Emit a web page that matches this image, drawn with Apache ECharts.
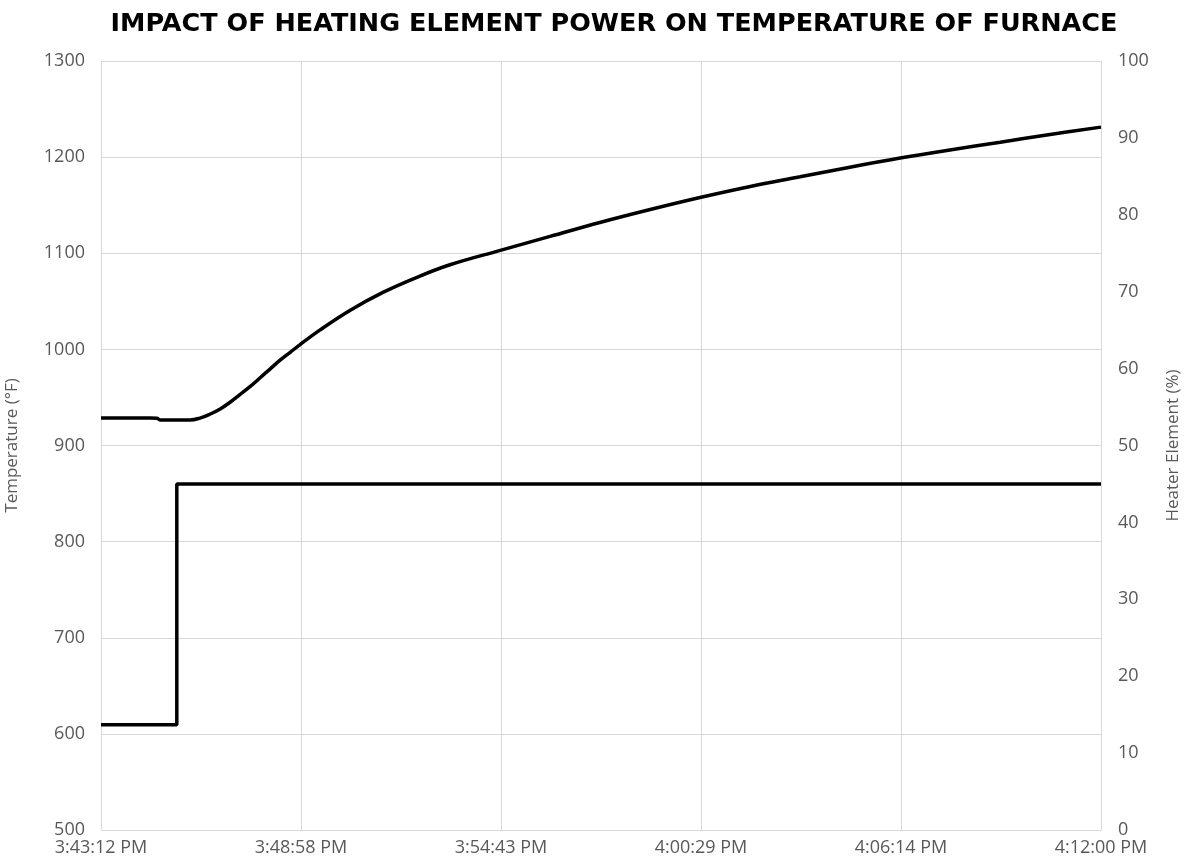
<!DOCTYPE html>
<html><head><meta charset="utf-8">
<script src="https://cdn.jsdelivr.net/npm/echarts@6/dist/echarts.min.js"></script>
<style>html,body{margin:0;padding:0;background:#fff}#c{width:1190px;height:867px}</style>
</head><body><div id="c"></div>
<script>
// elapsed seconds since 3:43:12 PM
const timeTickLabels = ['3:43:12 PM','3:48:58 PM','3:54:43 PM','4:00:29 PM','4:06:14 PM','4:12:00 PM'];
const tempTimes = [0, 85, 97, 102, 154, 171, 188, 206, 223, 240, 258, 275, 292, 309, 327, 344, 378, 430, 488, 546, 603, 690, 776, 862, 949, 1035, 1122, 1208, 1294, 1381, 1467, 1554, 1640, 1728];
const tempValues = [928.5, 928.5, 928.3, 926.5, 926.5, 928.5, 932.5, 938, 945, 953, 961.5, 970.5, 979.5, 988.5, 997, 1005, 1020, 1040.5, 1059.5, 1075, 1088, 1103, 1117.5, 1132, 1145.5, 1158, 1169.5, 1179.5, 1189.5, 1199, 1207.5, 1215.5, 1223.5, 1231.2];
const heaterTimes = [0, 131, 1728];
const heaterValues = [13.7, 45, 45];

const totalSec = 1728;
const tickInterval = totalSec / (timeTickLabels.length - 1);

const chart = echarts.init(document.getElementById('c'));
const labelColor = '#595959';
const font = 'Open Sans';
chart.setOption({
  animation: false,
  backgroundColor: '#fff',
  title: {
    text: 'IMPACT OF HEATING ELEMENT POWER ON TEMPERATURE OF FURNACE',
    left: 609, top: 6, textAlign: 'center',
    textStyle: {fontFamily: 'DejaVu Sans', fontWeight: 'bold', fontSize: 25.5, color: '#000'}
  },
  grid: {left: 101, right: 89, top: 61, bottom: 37, containLabel: false, outerBoundsMode: 'none'},
  xAxis: {
    type: 'value', min: 0, max: totalSec, interval: tickInterval,
    axisLine: {show: false}, axisTick: {show: false},
    splitLine: {show: true, lineStyle: {color: '#d9d9d9', width: 1}},
    axisLabel: {
      color: labelColor, fontFamily: font, fontSize: 18, margin: 9,
      formatter: v => timeTickLabels[Math.round(v / tickInterval)] || ''
    }
  },
  yAxis: [{
    type: 'value', min: 500, max: 1300, interval: 100,
    name: 'Temperature (°F)', nameLocation: 'middle', nameGap: 80, nameRotate: 90,
    nameTextStyle: {color: labelColor, fontFamily: font, fontSize: 17},
    axisLine: {show: false}, axisTick: {show: false},
    splitLine: {show: true, lineStyle: {color: '#d9d9d9', width: 1}},
    axisLabel: {color: labelColor, fontFamily: font, fontSize: 18, margin: 16, formatter: v => String(v)}
  }, {
    type: 'value', min: 0, max: 100, interval: 10, position: 'right',
    name: 'Heater Element (%)', nameLocation: 'middle', nameGap: 64, nameRotate: 90,
    nameTextStyle: {color: labelColor, fontFamily: font, fontSize: 17},
    axisLine: {show: false}, axisTick: {show: false},
    splitLine: {show: false},
    axisLabel: {color: labelColor, fontFamily: font, fontSize: 18, margin: 17, formatter: v => String(v)}
  }],
  series: [{
    type: 'line', yAxisIndex: 0, smooth: 0.4, showSymbol: false,
    lineStyle: {color: '#000', width: 3.5},
    data: tempTimes.map((t, i) => [t, tempValues[i]])
  }, {
    type: 'line', yAxisIndex: 1, step: 'end', showSymbol: false,
    lineStyle: {color: '#000', width: 3.5},
    data: heaterTimes.map((t, i) => [t, heaterValues[i]])
  }]
});
</script></body></html>
